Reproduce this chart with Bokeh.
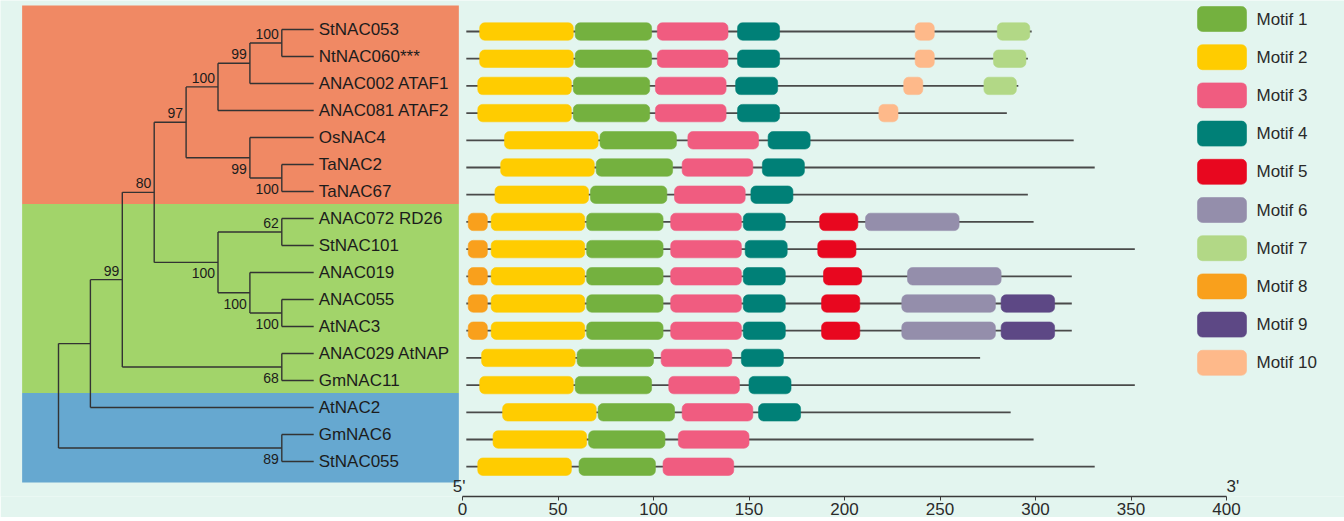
from bokeh.plotting import figure
from bokeh.models import Range1d, FixedTicker, ColumnDataSource
from bokeh.core.properties import value
from bokeh.embed import file_html
from bokeh.resources import INLINE

# ---------------------------------------------------------------- data
proteins = ["StNAC053", "NtNAC060***", "ANAC002 ATAF1", "ANAC081 ATAF2",
            "OsNAC4", "TaNAC2", "TaNAC67", "ANAC072 RD26", "StNAC101",
            "ANAC019", "ANAC055", "AtNAC3", "ANAC029 AtNAP", "GmNAC11",
            "AtNAC2", "GmNAC6", "StNAC055"]
protein_length = [298, 296, 291, 285, 320, 331, 296, 299, 352,
                  319, 319, 319, 271, 352, 287, 299, 331]

motif_labels = ["Motif 1", "Motif 2", "Motif 3", "Motif 4", "Motif 5",
                "Motif 6", "Motif 7", "Motif 8", "Motif 9", "Motif 10"]
motif_colors = ["#74B13F", "#FFCC00", "#F05C80", "#008077", "#E8071F",
                "#948EAB", "#B2D886", "#F9A01C", "#5D4885", "#FEB98A"]
motif_width = [40, 49, 37, 22, 20, 49, 17, 10, 28, 10]

# start residue of each motif in each protein (None = motif absent)
motif1_start = [59, 59, 58, 58, 72, 70, 67, 65, 65, 65, 65, 65, 60, 59, 71, 66, 61]
motif2_start = [9, 9, 8, 8, 22, 20, 17, 15, 15, 15, 15, 15, 10, 9, 21, 16, 8]
motif3_start = [102, 102, 101, 101, 118, 115, 111, 109, 109, 109, 109, 109, 104, 108, 115, 113, 105]
motif4_start = [144, 144, 143, 144, 160, 157, 151, 147, 148, 147, 147, 147, 146, 150, 155, None, None]
motif5_start = [None, None, None, None, None, None, None, 187, 186, 189, 188, 188, None, None, None, None, None]
motif6_start = [None, None, None, None, None, None, None, 211, None, 233, 230, 230, None, None, None, None, None]
motif7_start = [280, 278, 273, None, None, None, None, None, None, None, None, None, None, None, None, None, None]
motif8_start = [None, None, None, None, None, None, None, 3, 3, 3, 3, 3, None, None, None, None, None]
motif9_start = [None, None, None, None, None, None, None, None, None, None, 282, 282, None, None, None, None, None]
motif10_start = [237, 237, 231, 218, None, None, None, None, None, None, None, None, None, None, None, None, None]
motif_starts = [motif1_start, motif2_start, motif3_start, motif4_start, motif5_start,
                motif6_start, motif7_start, motif8_start, motif9_start, motif10_start]

# neighbour-joining cladogram: internal nodes, their depth level,
# children (top to bottom), bootstrap support and side of the support label
node_names = ["N0", "N1", "N2", "N3", "N4", "N5", "N6", "N7",
              "N8", "N9", "N10", "N11", "N12", "N13", "N14", "N15"]
node_level = [0, 1, 2, 3, 4, 5, 6, 7, 6, 7, 5, 7, 6, 7, 7, 7]
node_children = [["N1", "N15"], ["N2", "AtNAC2"], ["N3", "N14"], ["N4", "N10"],
                 ["N5", "N8"], ["N6", "ANAC081 ATAF2"], ["N7", "ANAC002 ATAF1"],
                 ["StNAC053", "NtNAC060***"], ["OsNAC4", "N9"], ["TaNAC2", "TaNAC67"],
                 ["N11", "N12"], ["ANAC072 RD26", "StNAC101"], ["ANAC019", "N13"],
                 ["ANAC055", "AtNAC3"], ["ANAC029 AtNAP", "GmNAC11"], ["GmNAC6", "StNAC055"]]
node_support = [None, None, 99, 80, 97, 100, 99, 100, 99, 100, 100, 62, 100, 100, 68, 89]
support_side = [None, None, "above", "above", "above", "above", "above", "above",
                "below", "below", "below", "above", "below", "below", "below", "below"]
LEAF_LEVEL = 8

# subfamily shading: first/last protein row of each clade
clade_first = [0, 7, 14]
clade_last = [6, 13, 16]
clade_colors = ["#F08964", "#A2D46A", "#66A8D0"]

axis_ticks = [0, 50, 100, 150, 200, 250, 300, 350, 400]

# ---------------------------------------------------------------- layout
W, FRAME_H = 1344, 496
BG = "#E3F5EF"
FONT = value("Liberation Sans")
AA0_PX, AA_PX = 462.0, 1.91          # residue 0 and pixels per residue
ROW0_PX, ROW_PX = 31.0, 27.2          # motif rows
TREE0_PX, LEVEL_PX = 58.0, 31.9       # tree root and pixels per level
TROW0_PX, TROW_PX = 29.0, 27.0        # tree rows
LEG0_PX, LEG_PX = 18.5, 38.2          # legend rows
LEG_SW_L, LEG_SW_R, LEG_TXT = 1197, 1246, 1256

p = figure(frame_width=W, frame_height=FRAME_H, output_backend="svg",
           toolbar_location=None, y_axis_location=None, min_border=0,
           x_range=Range1d(-AA0_PX / AA_PX, (W - AA0_PX) / AA_PX),
           y_range=Range1d((FRAME_H - ROW0_PX) / ROW_PX, -ROW0_PX / ROW_PX),
           background_fill_color=BG, border_fill_color=BG, outline_line_color=None)
p.grid.visible = False
p.extra_x_ranges = {
    "tree": Range1d(-TREE0_PX / LEVEL_PX, (W - TREE0_PX) / LEVEL_PX),
    "legend": Range1d(0, W),
}
p.extra_y_ranges = {
    "tree": Range1d((FRAME_H - TROW0_PX) / TROW_PX, -TROW0_PX / TROW_PX),
    "legend": Range1d((FRAME_H - LEG0_PX) / LEG_PX, -LEG0_PX / LEG_PX),
}

# ---- clade shading behind the tree
band_top = [clade_first[0] - 0.89] + [clade_last[i - 1] + 0.46 for i in range(1, len(clade_first))]
band_bottom = [clade_last[i] + 0.46 for i in range(len(clade_last) - 1)] + [clade_last[-1] + 0.78]
p.quad(left=-1.14, right=12.55, top=band_top, bottom=band_bottom,
       fill_color=clade_colors, line_color=None,
       x_range_name="tree", y_range_name="tree")

# ---- tree geometry
children = dict(zip(node_names, node_children))
level = dict(zip(node_names, node_level))
ypos = {}
for i, name in enumerate(proteins):
    ypos[name] = i
    level[name] = LEAF_LEVEL


def place(n):
    if n not in ypos:
        kids = children[n]
        ypos[n] = sum(place(k) for k in kids) / len(kids)
    return ypos[n]


place("N0")
sx0, sx1, sy0, sy1 = [], [], [], []
for n in node_names:
    kids = children[n]
    sx0.append(level[n]); sx1.append(level[n])
    sy0.append(ypos[kids[0]]); sy1.append(ypos[kids[-1]])
    for k in kids:
        sx0.append(level[n]); sx1.append(level[k])
        sy0.append(ypos[k]); sy1.append(ypos[k])
p.segment(x0=sx0, x1=sx1, y0=sy0, y1=sy1, line_color="#333333", line_width=1.4,
          x_range_name="tree", y_range_name="tree")

# leaf names
p.text(x=[LEAF_LEVEL] * len(proteins), y=list(range(len(proteins))), text=proteins,
       x_offset=5, text_baseline="middle", text_align="left",
       text_font=FONT, text_font_size="17px", text_color="#1c1c1c",
       x_range_name="tree", y_range_name="tree")

# bootstrap values
for side, dy in (("above", -9), ("below", 11)):
    idx = [i for i, s in enumerate(support_side) if s == side]
    p.text(x=[node_level[i] for i in idx], y=[ypos[node_names[i]] for i in idx],
           text=[str(node_support[i]) for i in idx],
           x_offset=-3, y_offset=dy, text_align="right", text_baseline="middle",
           text_font=FONT, text_font_size="14px", text_color="#1c1c1c",
           x_range_name="tree", y_range_name="tree")

# ---- protein backbones and motifs
rows = list(range(len(proteins)))
p.segment(x0=[2] * len(rows), x1=protein_length, y0=rows, y1=rows,
          line_color="#4a4a4a", line_width=1.8)

for k, starts in enumerate(motif_starts):
    r = [i for i, s in enumerate(starts) if s is not None]
    src = ColumnDataSource(dict(
        y=r,
        left=[starts[i] for i in r],
        right=[starts[i] + motif_width[k] for i in r],
    ))
    p.hbar(y="y", left="left", right="right", height=0.64, source=src,
           fill_color=motif_colors[k], line_color=motif_colors[k], line_alpha=0.6,
           border_radius=5)

# ---- residue axis
ax = p.xaxis[0]
ax.bounds = (axis_ticks[0], axis_ticks[-1])
ax.ticker = FixedTicker(ticks=axis_ticks)
ax.minor_tick_line_color = None
ax.major_tick_in = 0
ax.major_tick_out = 4
ax.axis_line_color = "#3a3a3a"
ax.major_tick_line_color = "#3a3a3a"
ax.axis_line_width = 1.5
ax.major_label_standoff = 2
ax.major_label_text_font = "Liberation Sans"
ax.major_label_text_font_size = "17px"
ax.major_label_text_color = "#2a2a2a"

end_y = (486 - ROW0_PX) / ROW_PX
p.text(x=[axis_ticks[0]], y=[end_y], text=["5'"], text_align="right", x_offset=3,
       text_baseline="middle", text_font=FONT, text_font_size="17px", text_color="#2a2a2a")
p.text(x=[axis_ticks[-1]], y=[end_y], text=["3'"], text_align="left", x_offset=0,
       text_baseline="middle", text_font=FONT, text_font_size="17px", text_color="#2a2a2a")

# ---- motif key
leg_rows = list(range(len(motif_labels)))
p.hbar(y=leg_rows, left=LEG_SW_L, right=LEG_SW_R, height=25 / LEG_PX,
       fill_color=motif_colors, line_color=motif_colors, line_alpha=0.6, border_radius=5,
       x_range_name="legend", y_range_name="legend")
p.text(x=[LEG_TXT] * len(leg_rows), y=leg_rows, text=motif_labels,
       text_baseline="middle", text_align="left",
       text_font=FONT, text_font_size="17px", text_color="#2a2a2a",
       x_range_name="legend", y_range_name="legend")

open("out.html", "w").write(file_html(p, INLINE))
